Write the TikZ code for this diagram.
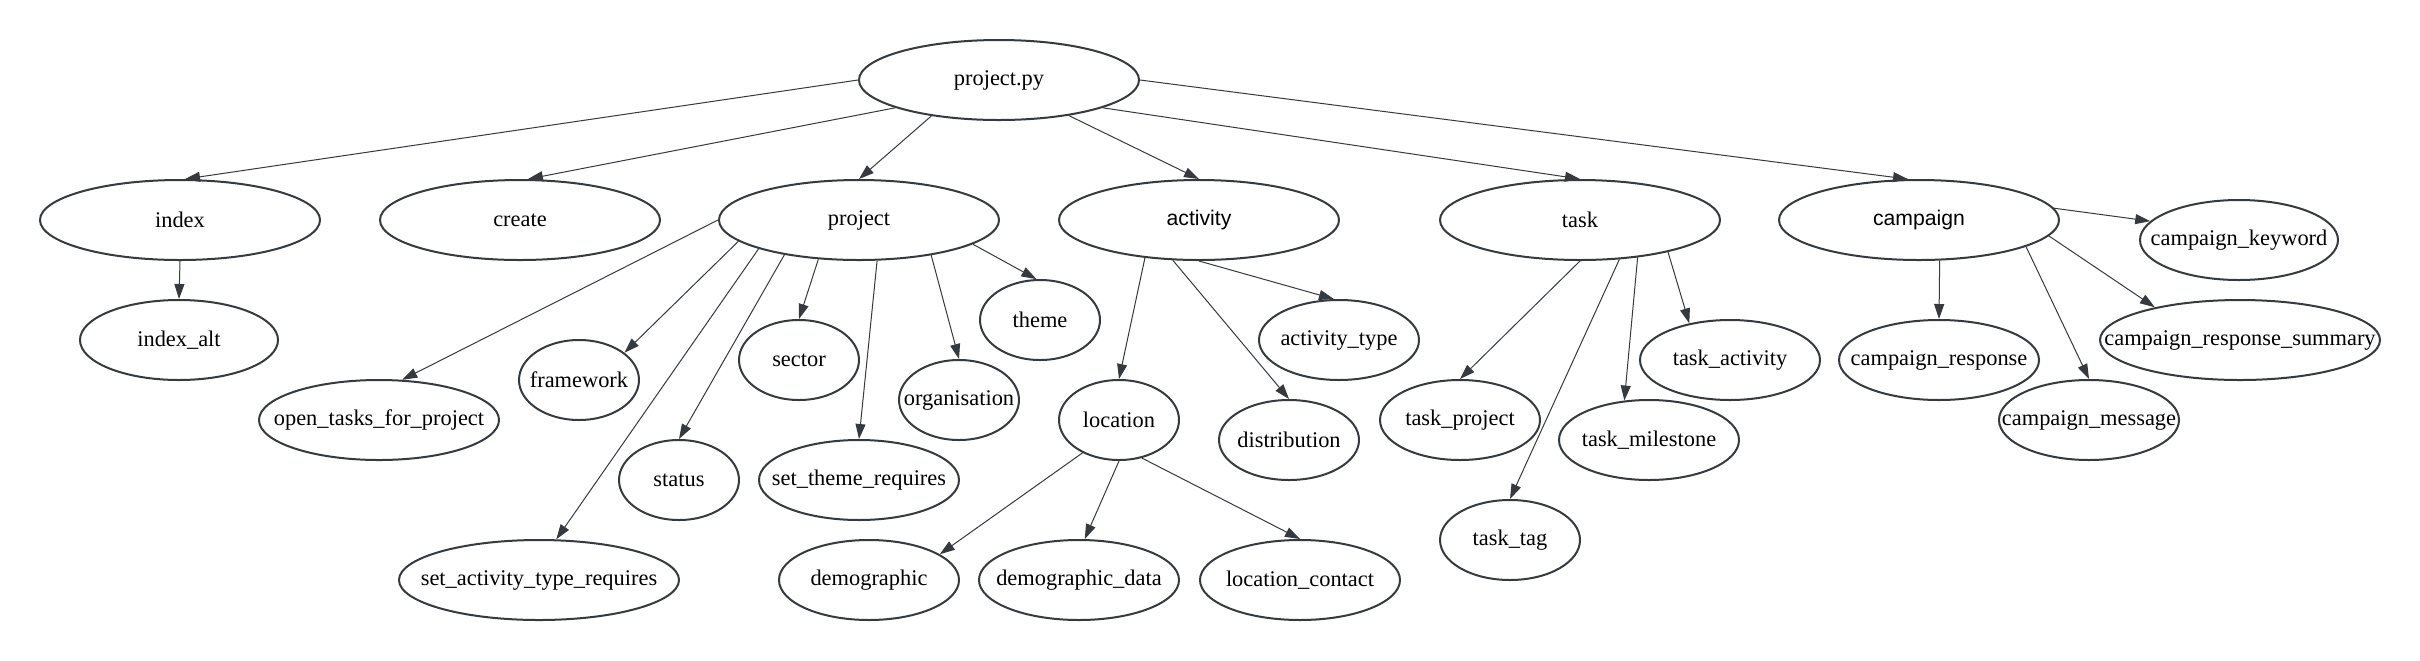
\documentclass[tikz,border=0pt]{standalone}
\usepackage{fontspec}
\setmainfont{Liberation Serif}
\newfontfamily\sansfont{Liberation Sans}
\usetikzlibrary{shapes.geometric,arrows.meta}
\definecolor{linea}{HTML}{343A40}
\begin{document}
\begin{tikzpicture}[x=0.5pt,y=-0.5pt,
    nodo/.style={ellipse,draw=linea,line width=1pt,inner sep=0pt,
      minimum height=40pt,font=\fontsize{11.2}{13}\selectfont,
      execute at begin node={\hbox to 0pt\bgroup\hss},
      execute at end node={\hss\egroup}},
    nodosans/.style={nodo,font=\sansfont\fontsize{10.6}{13}\selectfont},
    flecha/.style={draw=linea,line width=0.5pt,
      -{Triangle[length=7.5pt,width=5pt]}}]
    \useasboundingbox (0,0) rectangle (2420,660);

    % Nodo raiz y primer nivel
    \node[nodo,minimum width=140pt] (pyfile) at (999,80) {project.py};
    \node[nodo,minimum width=140pt] (index) at (180,220) {index};
    \node[nodo,minimum width=140pt] (create) at (520,220) {create};
    \node[nodo,minimum width=140pt] (project) at (859,220) {project};
    \node[nodosans,minimum width=140pt] (activity) at (1199,220) {activity};
    \node[nodo,minimum width=140pt] (task) at (1580,220) {task};
    \node[nodosans,minimum width=140pt] (campaign) at (1919,220) {campaign};

    % Hijos de index y project
    \node[nodo,minimum width=99pt] (indexalt) at (179,340) {index\_alt};
    \node[nodo,minimum width=120pt] (opentasks) at (379,420) {open\_tasks\_for\_project};
    \node[nodo,minimum width=60pt] (framework) at (579,380) {framework};
    \node[nodo,minimum width=60pt] (sector) at (799,360) {sector};
    \node[nodo,minimum width=60pt] (organisation) at (959,400) {organisation};
    \node[nodo,minimum width=60pt] (theme) at (1040,320) {theme};
    \node[nodo,minimum width=60pt] (status) at (679,480) {status};
    \node[nodo,minimum width=100pt] (setthemereq) at (859,480) {set\_theme\_requires};
    \node[nodo,minimum width=140pt] (setacttypereq) at (539,580) {set\_activity\_type\_requires};

    % Hijos de activity y location
    \node[nodo,minimum width=60pt] (location) at (1119,420) {location};
    \node[nodo,minimum width=70pt] (distribution) at (1289,440) {distribution};
    \node[nodo,minimum width=80pt] (activitytype) at (1339,340) {activity\_type};
    \node[nodo,minimum width=90pt] (demographic) at (869,580) {demographic};
    \node[nodo,minimum width=100pt] (demodata) at (1079,580) {demographic\_data};
    \node[nodo,minimum width=100pt] (loccontact) at (1300,580) {location\_contact};

    % Hijos de task
    \node[nodo,minimum width=80pt] (taskproject) at (1460,420) {task\_project};
    \node[nodo,minimum width=70pt] (tasktag) at (1510,540) {task\_tag};
    \node[nodo,minimum width=90pt] (taskmilestone) at (1649,440) {task\_milestone};
    \node[nodo,minimum width=90pt] (taskactivity) at (1730,360) {task\_activity};

    % Hijos de campaign
    \node[nodo,minimum width=99pt] (campkeyword) at (2239,240) {campaign\_keyword};
    \node[nodo,minimum width=100pt] (campresponse) at (1939,360) {campaign\_response};
    \node[nodo,minimum width=90pt] (campmessage) at (2089,420) {campaign\_message};
    \node[nodo,minimum width=140pt] (campsummary) at (2240,340) {campaign\_response\_summary};

    % Flechas desde project.py
    \draw[flecha] (pyfile.west) -- (index.83);
    \draw[flecha] (pyfile.195) -- (create.79);
    \draw[flecha] (pyfile.208) -- (project.north);
    \draw[flecha] (pyfile.333) -- (activity.north);
    \draw[flecha] (pyfile.345) -- (task.north);
    \draw[flecha] (pyfile.east) -- (campaign.105);

    % Flechas de index y project
    \draw[flecha] (index.south) -- (indexalt.north);
    \draw[flecha] (project.west) -- (opentasks.60);
    \draw[flecha] (project.190) -- (framework.31);
    \draw[flecha] (project.196) -- (setacttypereq.67);
    \draw[flecha] (project.205) -- (status.north);
    \draw[flecha] (project.224) -- (sector.north);
    \draw[flecha] (project.294) -- (setthemereq.north);
    \draw[flecha] (project.334) -- (organisation.north);
    \draw[flecha] (project.348) -- (theme.95);

    % Flechas de activity y location
    \draw[flecha] (activity.215) -- (location.north);
    \draw[flecha] (activity.237) -- (distribution.north);
    \draw[flecha] (activity.south) -- (activitytype.97);
    \draw[flecha] (location.222) -- (demographic.20);
    \draw[flecha] (location.south) -- (demodata.82);
    \draw[flecha] (location.301) -- (loccontact.north);

    % Flechas de task
    \draw[flecha] (task.south) -- (taskproject.north);
    \draw[flecha] (task.315) -- (tasktag.north);
    \draw[flecha] (task.327) -- (taskmilestone.122);
    \draw[flecha] (task.340) -- (taskactivity.138);

    % Flechas de campaign
    \draw[flecha] (campaign.5) -- (campkeyword.168);
    \draw[flecha] (campaign.297) -- (campresponse.north);
    \draw[flecha] (campaign.346) -- (campmessage.north);
    \draw[flecha] (campaign.353) -- (campsummary.159);
\end{tikzpicture}
\end{document}
